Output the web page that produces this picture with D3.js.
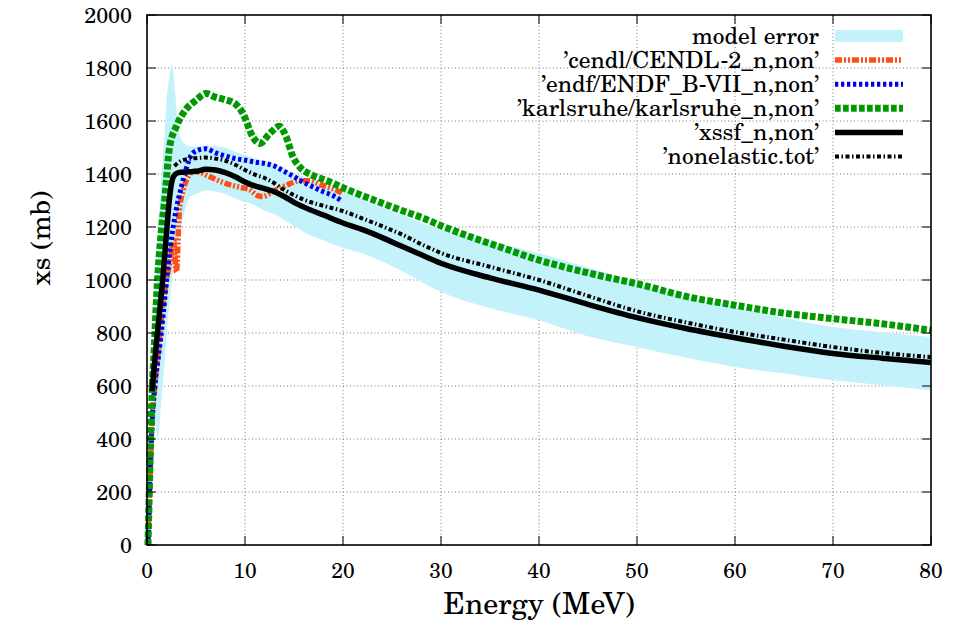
<!DOCTYPE html>
<html lang="en">
<head>
    <meta charset="utf-8" />
    <title>xs (mb) vs Energy (MeV)</title>
    <script type="text/javascript" src="https://cdn.jsdelivr.net/npm/d3@7/dist/d3.min.js"></script>
    <style type="text/css">
        body { margin: 0; background: #fff; }
        .grid line { stroke: #7a7a7a; stroke-width: 1; stroke-dasharray: 1,2.5; }
        .series { fill: none; }
    </style>
</head>
<body>
<div id="chart"></div>
<script type="text/javascript">
    // data: [energy MeV, xs mb]
    const xTicks = [0, 10, 20, 30, 40, 50, 60, 70, 80];
    const yTicks = [0, 200, 400, 600, 800, 1000, 1200, 1400, 1600, 1800, 2000];
    const legendLabels = ['model error', '\u2019cendl/CENDL-2_n,non\u2019', '\u2019endf/ENDF_B-VII_n,non\u2019',
        '\u2019karlsruhe/karlsruhe_n,non\u2019', '\u2019xssf_n,non\u2019', '\u2019nonelastic.tot\u2019'];

    // [energy, lower, upper]
    const modelError = [[0.45, 580, 600], [0.7, 510, 800], [1.1, 406, 1150], [1.5, 560, 1400], [1.8, 690, 1560],
        [2.0, 790, 1680], [2.25, 900, 1760], [2.55, 1000, 1814], [2.9, 1100, 1700], [3.2, 1160, 1570],
        [3.8, 1250, 1515], [4.4, 1313, 1505], [5.0, 1325, 1502], [6.1, 1338, 1508], [7.8, 1326, 1502],
        [9.5, 1300, 1477], [10.5, 1290, 1465], [11.8, 1265, 1452], [12.9, 1250, 1440], [14.6, 1213, 1410],
        [16.3, 1175, 1385], [18, 1150, 1360], [19.7, 1125, 1340], [22, 1100, 1305], [24, 1070, 1275],
        [26.5, 1024, 1238], [30, 955, 1190], [34.6, 898, 1150], [40, 848, 1100], [44.8, 790, 1049],
        [50, 747, 990], [54.7, 709, 942], [60, 672, 898], [65, 647, 858], [70, 622, 823], [75, 603, 803],
        [80, 584, 785]];

    const cendl = [[0.1, 0], [0.3, 250], [0.5, 450], [0.8, 600], [1.2, 750], [1.6, 900], [2.0, 1000],
        [2.4, 1080], [2.7, 1150], [3.0, 1030], [3.3, 1260], [3.7, 1340], [4.2, 1390], [4.8, 1410],
        [5.5, 1405], [6.1, 1395], [7.1, 1378], [8.4, 1360], [9.5, 1350], [10.5, 1340], [11.2, 1320],
        [11.8, 1315], [12.9, 1335], [14.2, 1357], [15.6, 1375], [16.5, 1375], [17.9, 1357], [19.7, 1332],
        [20, 1325]];

    const endf = [[0.1, 0], [0.3, 250], [0.5, 450], [0.8, 600], [1.2, 720], [1.6, 850], [2.0, 1000],
        [2.4, 1130], [3.0, 1270], [3.5, 1350], [4.0, 1420], [4.5, 1470], [5.2, 1490], [6.0, 1495],
        [7.0, 1480], [8.0, 1468], [9.0, 1458], [10.1, 1452], [11.0, 1445], [12.0, 1440], [13.0, 1430],
        [14.0, 1410], [15.0, 1390], [16.0, 1368], [17.0, 1350], [18.0, 1333], [19.0, 1318], [19.8, 1300]];

    const karlsruhe = [[0.1, 0], [0.2, 150], [0.3, 300], [0.4, 450], [0.55, 600], [0.75, 750], [1.0, 950],
        [1.5, 1200], [1.8, 1300], [2.3, 1500], [3.0, 1580], [4.0, 1645], [5.0, 1678], [6.0, 1704],
        [7.0, 1690], [8.0, 1680], [9.0, 1665], [9.8, 1628], [10.8, 1540], [11.5, 1515], [12.5, 1552],
        [13.5, 1580], [14.2, 1540], [14.9, 1464], [15.6, 1426], [16.9, 1395], [18.3, 1376], [20, 1348],
        [22, 1318], [24, 1290], [26, 1262], [28, 1236], [30, 1205], [33, 1163], [36, 1125], [40, 1075],
        [43, 1045], [46, 1018], [50, 986], [55, 938], [60, 905], [65, 875], [70, 854], [75, 835], [80, 810]];

    const xssf = [[0.5, 580], [0.8, 700], [1.2, 850], [1.6, 1000], [2.0, 1180], [2.3, 1310], [2.7, 1390],
        [3.2, 1405], [4, 1408], [5, 1410], [6, 1418], [7, 1415], [8, 1405], [9, 1390], [10, 1370],
        [11, 1355], [12, 1345], [13, 1333], [14, 1315], [15, 1293], [16, 1275], [18, 1245], [20, 1215],
        [22, 1190], [24, 1160], [26, 1127], [28, 1095], [30, 1063], [35, 1008], [40, 962], [45, 908],
        [50, 858], [55, 817], [60, 782], [65, 750], [70, 723], [75, 705], [80, 689]];

    const nonelastic = [[2.8, 1430], [3.5, 1450], [4.5, 1458], [6, 1462], [7, 1458], [8, 1450], [9, 1435],
        [10, 1415], [11, 1398], [12, 1385], [13, 1365], [14, 1340], [15, 1320], [16, 1303], [18, 1280],
        [20, 1260], [22, 1232], [24, 1203], [26, 1172], [28, 1135], [30, 1102], [35, 1050], [40, 1000],
        [45, 940], [50, 882], [55, 840], [60, 804], [65, 775], [70, 747], [75, 725], [80, 709]];

    const width = 964, height = 620;
    const margin = {top: 15, right: 33, bottom: 75, left: 147};
    const serif = '"TeX Gyre Schola"';

    const x = d3.scaleLinear().domain([0, 80]).range([margin.left, width - margin.right]);
    const y = d3.scaleLinear().domain([0, 2000]).range([height - margin.bottom, margin.top]);

    const svg = d3.select('#chart').append('svg')
        .attr('width', width)
        .attr('height', height)
        .style('font-family', serif);

    // grid
    const grid = svg.append('g').attr('class', 'grid');
    grid.selectAll('.gx')
        .data(xTicks.slice(1, -1))
        .enter().append('line')
        .attr('x1', d => x(d)).attr('x2', d => x(d))
        .attr('y1', y(0)).attr('y2', y(2000));
    grid.selectAll('.gy')
        .data(yTicks.slice(1, -1))
        .enter().append('line')
        .attr('y1', d => y(d)).attr('y2', d => y(d))
        .attr('x1', x(0)).attr('x2', x(80));

    const styles = [
        {color: '#c4f2fb'},
        {color: '#ff4f14', width: 5.5, dash: '7,2,2,2,2,2'},
        {color: '#0000ee', width: 5, dash: '3.3,2.7'},
        {color: '#009900', width: 7, dash: '5.7,2.3'},
        {color: '#000000', width: 5.5, dash: null},
        {color: '#000000', width: 4, dash: '4,2.5,1.5,2.5'}
    ];

    const band = d3.area()
        .curve(d3.curveMonotoneX)
        .x(d => x(d[0]))
        .y0(d => y(d[1]))
        .y1(d => y(d[2]));

    svg.append('path')
        .datum(modelError)
        .attr('d', band)
        .style('fill', styles[0].color);

    const line = d3.line()
        .curve(d3.curveMonotoneX)
        .x(d => x(d[0]))
        .y(d => y(d[1]));

    [cendl, endf, karlsruhe, xssf, nonelastic].forEach((s, i) => {
        const st = styles[i + 1];
        svg.append('path')
            .datum(s)
            .attr('class', 'series')
            .attr('d', line)
            .style('stroke', st.color)
            .style('stroke-width', st.width)
            .style('stroke-dasharray', st.dash);
    });

    // axes, ticks mirrored inside on all four sides
    const tickLen = 9;
    const axes = svg.append('g');
    xTicks.forEach(t => {
        axes.append('line').attr('x1', x(t)).attr('x2', x(t))
            .attr('y1', y(0)).attr('y2', y(0) - tickLen)
            .style('stroke', '#000').style('stroke-width', 1);
        axes.append('line').attr('x1', x(t)).attr('x2', x(t))
            .attr('y1', y(2000)).attr('y2', y(2000) + tickLen)
            .style('stroke', '#000').style('stroke-width', 1);
    });
    yTicks.forEach(t => {
        axes.append('line').attr('y1', y(t)).attr('y2', y(t))
            .attr('x1', x(0)).attr('x2', x(0) + tickLen)
            .style('stroke', '#000').style('stroke-width', 1);
        axes.append('line').attr('y1', y(t)).attr('y2', y(t))
            .attr('x1', x(80)).attr('x2', x(80) - tickLen)
            .style('stroke', '#000').style('stroke-width', 1);
    });
    axes.append('rect')
        .attr('x', x(0)).attr('y', y(2000))
        .attr('width', x(80) - x(0)).attr('height', y(0) - y(2000))
        .style('fill', 'none').style('stroke', '#000').style('stroke-width', 1.6);

    svg.selectAll('.xlab')
        .data(xTicks)
        .enter().append('text')
        .attr('x', d => x(d))
        .attr('y', y(0) + 33)
        .attr('text-anchor', 'middle')
        .style('font-family', serif)
        .style('font-size', '21px')
        .text(d => d);

    svg.selectAll('.ylab')
        .data(yTicks)
        .enter().append('text')
        .attr('x', x(0) - 15)
        .attr('y', d => y(d) + 7.5)
        .attr('text-anchor', 'end')
        .style('font-family', serif)
        .style('font-size', '21.5px')
        .text(d => d);

    svg.append('text')
        .attr('x', (x(0) + x(80)) / 2)
        .attr('y', 614)
        .attr('text-anchor', 'middle')
        .style('font-family', serif)
        .style('font-size', '30px')
        .text('Energy (MeV)');

    svg.append('text')
        .attr('transform', 'translate(50,238) rotate(-90)')
        .attr('text-anchor', 'middle')
        .style('font-family', serif)
        .style('font-size', '28px')
        .text('xs (mb)');

    // legend
    const legend = svg.selectAll('.legends')
        .data(legendLabels)
        .enter().append('g')
        .attr('class', 'legends')
        .attr('transform', (d, i) => 'translate(0,' + (36 + i * 24.1) + ')');
    legend.append('text')
        .attr('x', 819)
        .attr('y', 7.5)
        .attr('text-anchor', 'end')
        .style('font-family', serif)
        .style('font-size', '23.5px')
        .text(d => d);
    legend.each(function (d, i) {
        const g = d3.select(this), st = styles[i];
        if (i === 0) {
            g.append('rect').attr('x', 835).attr('y', -6).attr('width', 68).attr('height', 12)
                .style('fill', st.color);
        } else {
            g.append('line').attr('x1', 835).attr('x2', 903).attr('y1', 0).attr('y2', 0)
                .style('stroke', st.color).style('stroke-width', st.width)
                .style('stroke-dasharray', st.dash);
        }
    });
</script>
</body>
</html>
